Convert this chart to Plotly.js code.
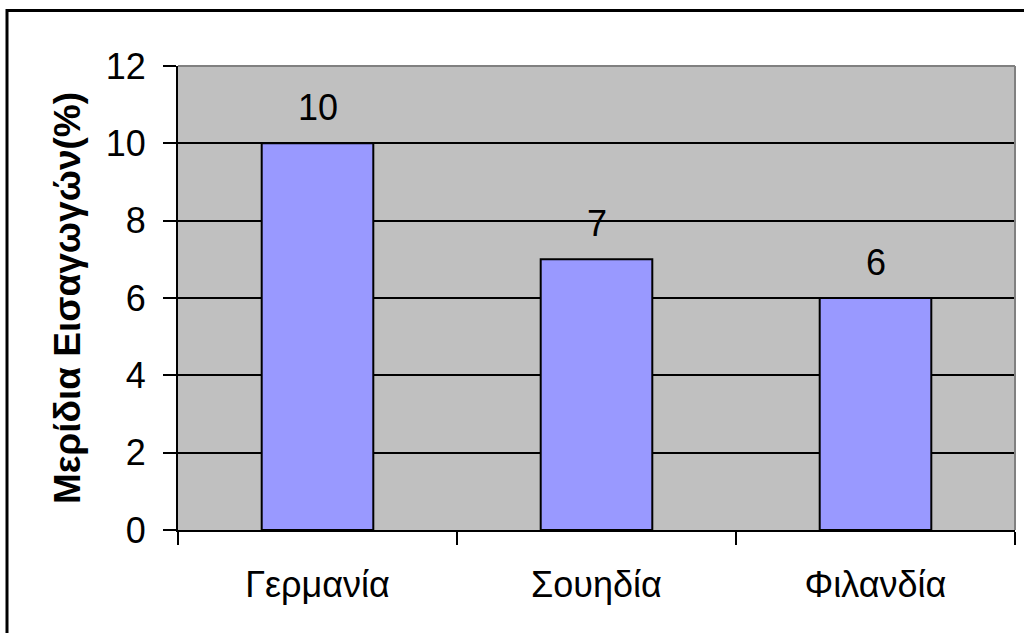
<!DOCTYPE html>
<html>
<head>
<meta charset="utf-8">
<script src="https://cdn.plot.ly/plotly-3.0.1.min.js"></script>
<style>
  body { margin: 0; background: #fff; }
  #chart { width: 1024px; height: 633px; }
</style>
</head>
<body>
<div id="chart"></div>
<script>
var countries = ['Γερμανία', 'Σουηδία', 'Φιλανδία'];
var shares = [10, 7, 6];
var yTicks = [0, 2, 4, 6, 8, 10, 12];

var font = 'Liberation Sans, Arial, sans-serif';

var trace1 = {
    type: 'bar',
    x: countries,
    y: shares,
    width: 0.4,
    marker: {
        color: '#9999FF',
        line: { color: '#000', width: 2 }
    },
    hoverinfo: 'x+y'
};

// value labels sit a bit above each bar
var labels = countries.map(function (c, i) {
    return {
        x: c, y: shares[i], text: String(shares[i]),
        showarrow: false, yanchor: 'bottom', yshift: 13,
        font: { family: font, size: 36, color: '#000' }
    };
});

var layout = {
    width: 1024,
    height: 633,
    margin: { l: 178, r: 9, t: 66, b: 103 },
    paper_bgcolor: '#fff',
    plot_bgcolor: '#C0C0C0',
    font: { family: font, size: 36, color: '#000' },
    showlegend: false,
    xaxis: {
        type: 'category',
        tickson: 'boundaries',
        ticks: 'outside', ticklen: 13, tickwidth: 2, tickcolor: '#000',
        ticklabelstandoff: 22,
        showline: true, linecolor: '#000', linewidth: 2,
        showgrid: false,
        tickfont: { family: font, size: 36 }
    },
    yaxis: {
        range: [0, 12],
        tickvals: yTicks,
        ticks: 'outside', ticklen: 13, tickwidth: 2, tickcolor: '#000',
        ticklabelstandoff: 10,
        showline: true, linecolor: '#000', linewidth: 2,
        gridcolor: '#000', gridwidth: 2,
        zeroline: false,
        tickfont: { family: font, size: 36 },
        title: {
            text: '<b>Μερίδια Εισαγωγών(%)</b>',
            font: { family: font, size: 37 },
            standoff: 14
        }
    },
    annotations: labels,
    shapes: [
        // grey frame on top and right of the plot area
        { type: 'line', xref: 'paper', yref: 'paper', x0: 0, x1: 1, y0: 1, y1: 1,
          line: { color: '#808080', width: 2 } },
        { type: 'line', xref: 'paper', yref: 'paper', x0: 1, x1: 1, y0: 0, y1: 1,
          line: { color: '#808080', width: 2 } },
        // outer chart border
        { type: 'rect', xref: 'paper', yref: 'paper',
          x0: -0.2043, x1: 1.2, y0: -0.4, y1: 1.1196,
          line: { color: '#000', width: 3 } }
    ]
};

var config = { staticPlot: true };

Plotly.newPlot('chart', [trace1], layout, config);
</script>
</body>
</html>
